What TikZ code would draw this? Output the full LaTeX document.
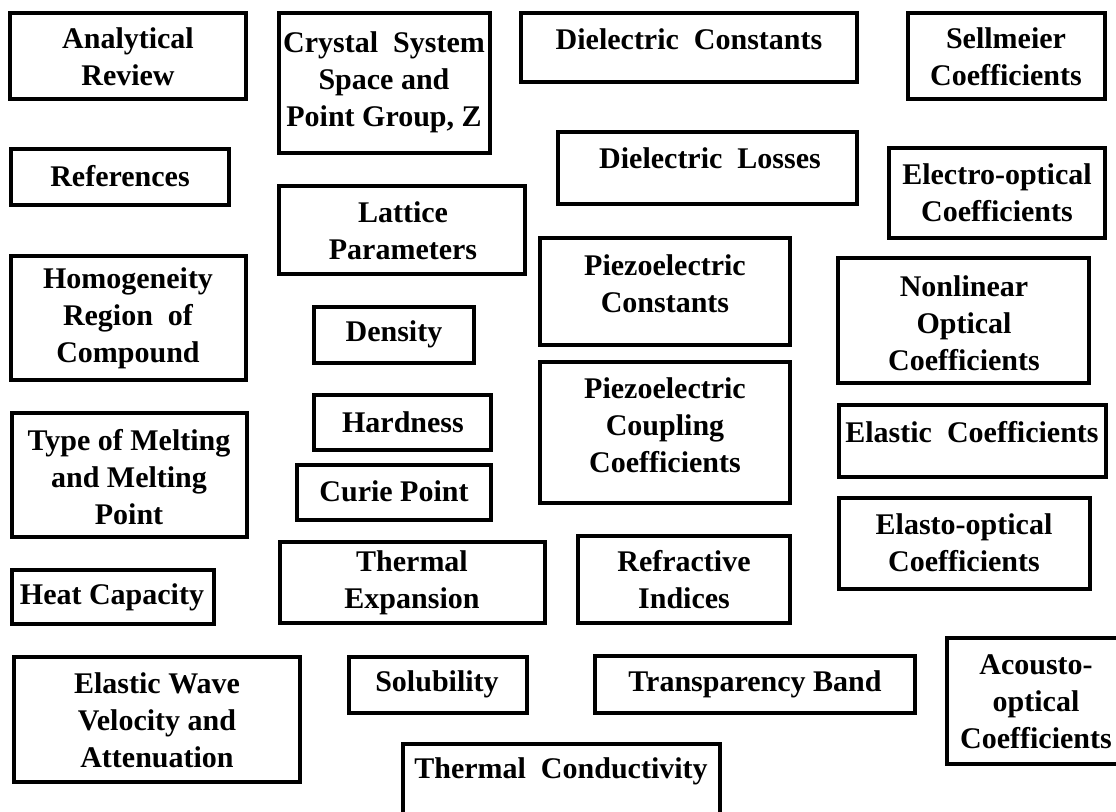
\documentclass[tikz,border=0pt]{standalone}
\usepackage{fontspec}
\setmainfont{Liberation Serif}
\tikzset{
	box_text/.style = {
		align=center,
		inner sep=0pt,
		text centered,
		font=\fontsize{15pt}{18.5pt}\selectfont\bfseries
	},
	box_frame/.style = {
		draw=black,
		line width=2pt
	},
}
\begin{document}
\begin{tikzpicture}[x=0.5pt,y=-0.5pt]
\useasboundingbox (0,0) rectangle (1116,811);
% left column
\draw [box_frame] (10,13) rectangle (246,99);
\node [box_text] (analytical) at (128,57) {Analytical\\Review};
\draw [box_frame] (11,149) rectangle (229,205);
\node [box_text] (references) at (120,176) {References};
\draw [box_frame] (11,256) rectangle (246,380);
\node [box_text] (homogeneity) at (128,318) {Homogeneity\\Region~ of\\Compound};
\draw [box_frame] (12,413) rectangle (247,537);
\node [box_text] (melting) at (129,477) {Type of Melting\\and Melting\\Point};
\draw [box_frame] (12,570) rectangle (214,624);
\node [box_text] (heat) at (112,597) {Heat Capacity};
\draw [box_frame] (14,657) rectangle (300,782);
\node [box_text] (wave) at (157,720) {Elastic Wave\\Velocity and\\Attenuation};
% second column
\draw [box_frame] (279,13) rectangle (490,153);
\node [box_text] (crystal) at (384,82) {Crystal~ System\\Space and\\Point Group, Z};
\draw [box_frame] (279,186) rectangle (525,274);
\node [box_text] (lattice) at (403,231) {Lattice\\Parameters};
\draw [box_frame] (314,307) rectangle (474,363);
\node [box_text] (density) at (394,334) {Density};
\draw [box_frame] (314,395) rectangle (491,450);
\node [box_text] (hardness) at (403,422) {Hardness};
\draw [box_frame] (297,465) rectangle (491,520);
\node [box_text] (curie) at (394,491) {Curie Point};
\draw [box_frame] (280,542) rectangle (545,623);
\node [box_text] (expansion) at (412,583) {Thermal\\Expansion};
\draw [box_frame] (349,657) rectangle (527,713);
\node [box_text] (solubility) at (437,684) {Solubility};
\draw [box_frame] (403,744) rectangle (720,815);
\node [box_text] (conductivity) at (561,771) {Thermal~ Conductivity};
% third column
\draw [box_frame] (521,13) rectangle (857,82);
\node [box_text] (diel_const) at (689,39) {Dielectric~ Constants};
\draw [box_frame] (558,132) rectangle (857,204);
\node [box_text] (diel_loss) at (710,158) {Dielectric~ Losses};
\draw [box_frame] (540,238) rectangle (790,345);
\node [box_text] (piezo_const) at (665,284) {Piezoelectric\\Constants};
\draw [box_frame] (540,362) rectangle (790,503);
\node [box_text] (piezo_coupl) at (665,425) {Piezoelectric\\Coupling\\Coefficients};
\draw [box_frame] (578,536) rectangle (790,623);
\node [box_text] (refractive) at (684,580) {Refractive\\Indices};
\draw [box_frame] (595,656) rectangle (915,713);
\node [box_text] (transparency) at (755,684) {Transparency Band};
% right column
\draw [box_frame] (908,13) rectangle (1105,99);
\node [box_text] (sellmeier) at (1006,57) {Sellmeier\\Coefficients};
\draw [box_frame] (889,148) rectangle (1105,238);
\node [box_text] (electro) at (997,193) {Electro-optical\\Coefficients};
\draw [box_frame] (838,258) rectangle (1089,383);
\node [box_text] (nonlinear) at (964,323) {Nonlinear\\Optical\\Coefficients};
\draw [box_frame] (839,405) rectangle (1106,477);
\node [box_text] (elastic) at (972,432) {Elastic~ Coefficients};
\draw [box_frame] (839,498) rectangle (1090,589);
\node [box_text] (elasto) at (964,543) {Elasto-optical\\Coefficients};
\draw [box_frame] (947,638) rectangle (1120,764);
\node [box_text] (acousto) at (1036,702) {Acousto-\\optical\\Coefficients};
\end{tikzpicture}
\end{document}
